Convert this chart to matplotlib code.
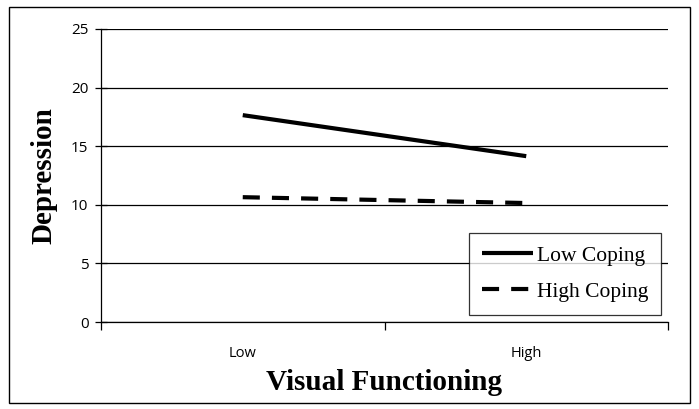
import numpy as np
import matplotlib.pyplot as plt
from matplotlib.patches import Rectangle

categories = ['Low', 'High']
low_coping = [17.65, 14.15]
high_coping = [10.65, 10.15]
y_ticks = [0, 5, 10, 15, 20, 25]

fig = plt.figure(figsize=(6.99, 4.09), dpi=100)
ax = fig.add_axes([101/699, 1 - 322/409, 567/699, 293/409])

x = np.arange(len(categories))
ax.plot(x, low_coping, color='black', lw=3, solid_capstyle='butt', label='Low Coping')
ax.plot(x, high_coping, color='black', lw=3, dashes=(4.1, 2.9), dash_capstyle='butt',
        label='High Coping')

ax.set_xlim(-0.5, 1.5)
ax.set_ylim(0, 25)
ax.set_yticks(y_ticks)
ax.yaxis.grid(True, color='black', lw=0.9)
ax.set_axisbelow(True)
for s in ['top', 'right']:
    ax.spines[s].set_visible(False)
ax.spines['left'].set_linewidth(0.9)
ax.spines['bottom'].set_linewidth(0.9)

ax.set_xticks([-0.5, 0.5, 1.5])
ax.set_xticklabels([])
ax.set_xticks(x, minor=True)
ax.set_xticklabels(categories, minor=True, fontsize=10.5, family='Open Sans')
ax.tick_params(axis='x', which='major', length=6, width=0.9, direction='out')
ax.tick_params(axis='x', which='minor', length=0, pad=17)
ax.tick_params(axis='y', length=8, width=0.9, direction='inout', labelsize=11, pad=5)
for t in ax.get_yticklabels():
    t.set_family('Open Sans')

ax.set_ylabel('Depression', family='Liberation Serif', fontweight='bold', fontsize=21, labelpad=10)
ax.set_xlabel('Visual Functioning', family='Liberation Serif', fontweight='bold', fontsize=21,
              labelpad=6)

leg = ax.legend(loc='lower right', bbox_to_anchor=(0.996, 0.01), frameon=True, fancybox=False,
                edgecolor='black', handlelength=2.35, handletextpad=0.2, labelspacing=0.75,
                borderpad=0.6, borderaxespad=0.2,
                prop={'family': 'Liberation Serif', 'size': 15.5})
leg.get_frame().set_linewidth(0.9)

fig.patches.append(Rectangle((9/699, 6/409), 681/699, 396/409, transform=fig.transFigure,
                             fill=False, edgecolor='black', lw=1.0))

fig.savefig('out.png', dpi=100)
